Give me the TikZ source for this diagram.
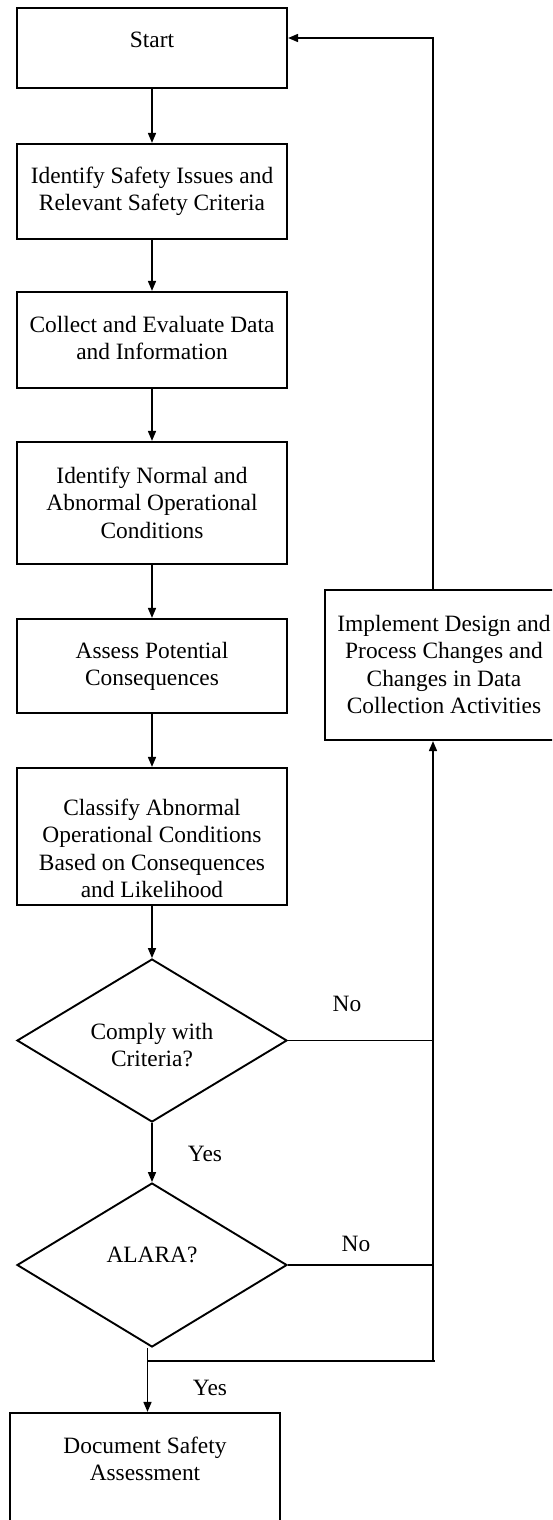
\documentclass[tikz,border=0pt]{standalone}
\usepackage{fontspec}
\setmainfont{Liberation Serif}
\usetikzlibrary{arrows.meta,shapes.geometric}

% Text block of a fixed size; #3 is the distance from the top edge to the first baseline
\newcommand{\cell}[4]{\parbox[b][#2][t]{#1}{\centering\vspace*{\dimexpr#3-0.7\baselineskip\relax}\strut #4}}

\begin{document}
\begin{tikzpicture}[x=1pt,y=-1pt,
  font=\fontsize{23.4}{27.6}\selectfont,
  stepbox/.style={draw, rectangle, inner sep=0pt, line width=2.2pt},
  decision/.style={draw, diamond, aspect=1.66, inner sep=0pt, line width=1.9pt,
                   minimum width=270pt},
  flow/.style={line width=1.6pt, -{Triangle[length=10pt,width=8pt]}},
  link/.style={line width=1.7pt},
  tag/.style={inner sep=0pt, anchor=base}]

\useasboundingbox (0,0) rectangle (552,1520);
\clip (0,0) rectangle (552,1520);

% main column
\node[stepbox] (start)    at (152,48)    {\cell{270pt}{80pt}{40pt}{Start}};
\node[stepbox] (issues)   at (152,191.5) {\cell{270pt}{95pt}{39pt}{Identify Safety Issues and\\Relevant Safety Criteria}};
\node[stepbox] (collect)  at (152,340)   {\cell{270pt}{96pt}{40pt}{Collect and Evaluate Data\\and Information}};
\node[stepbox] (normal)   at (152,503)   {\cell{270pt}{122pt}{41pt}{Identify Normal and\\Abnormal Operational\\Conditions}};
\node[stepbox] (assess)   at (152,666)   {\cell{270pt}{94pt}{39pt}{Assess Potential\\Consequences}};
\node[stepbox] (classify) at (152,836.5) {\cell{270pt}{137pt}{47pt}{Classify Abnormal\\Operational Conditions\\Based on Consequences\\and Likelihood}};

\node[decision, minimum height=163pt] (comply) at (152,1040.5) {\cell{130pt}{60pt}{28.8pt}{Comply with\\Criteria?}};
\node[decision, minimum height=164pt] (alara)  at (152,1265)   {\cell{130pt}{60pt}{27.7pt}{ALARA?}};

\node[stepbox] (document) at (145,1471.5) {\cell{270pt}{117pt}{40pt}{Document Safety\\Assessment}};

% feedback box on the right
\node[stepbox] (implement) at (444,665) {\cell{238pt}{150pt}{41pt}{Implement Design and\\Process Changes and\\Changes in Data\\Collection Activities}};

% decision labels
\node[tag] (no1)  at (347,1011)   {No};
\node[tag] (no2)  at (356,1251.7) {No};
\node[tag] (yes1) at (205,1161.7) {Yes};
\node[tag] (yes2) at (210,1395.7) {Yes};

% routing coordinates
\coordinate (rx)   at (433,1361);
\coordinate (yx)   at (147.5,1361);

% forward flow
\draw[flow] (start)    -- (issues);
\draw[flow] (issues)   -- (collect);
\draw[flow] (collect)  -- (normal);
\draw[flow] (normal)   -- (assess);
\draw[flow] (assess)   -- (classify);
\draw[flow] (classify) -- (comply);
\draw[flow] (comply)   -- (alara);
\draw[flow] (alara.south -| yx) -- (document.north -| yx);

% "No" branches and return loop
\draw[link] (comply.east) -- (comply.east -| rx);
\draw[link] (alara.east)  -- (alara.east -| rx);
\draw[link] (yx) -- ([xshift=2pt]rx);
\draw[flow] (rx) -- (implement.south -| rx);
\draw[flow] (implement.north -| rx) |- ([yshift=10pt]start.east);

\end{tikzpicture}
\end{document}
